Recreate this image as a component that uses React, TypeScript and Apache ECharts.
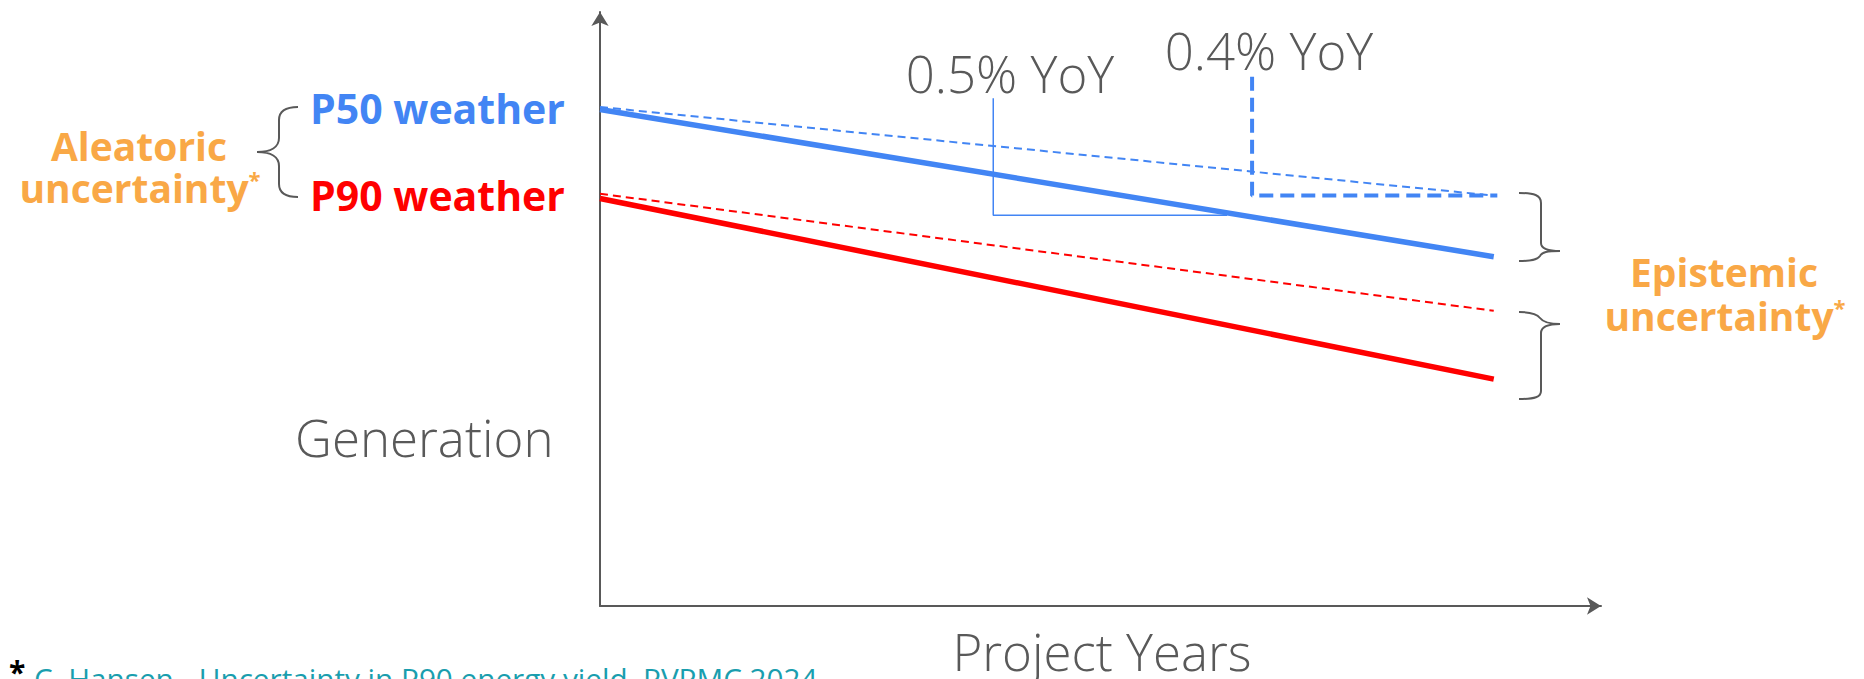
import React, { useEffect, useRef } from "react";
import * as echarts from "echarts";

// ---- data ----
const years = [0, 25];
const p50Degraded = [83.6, 58.8]; // P50 weather, 0.5% YoY (solid)
const p50Reference = [84.0, 69.1]; // P50 weather, 0.4% YoY (dashed)
const p90Degraded = [68.6, 38.2]; // P90 weather, 0.5% YoY (solid)
const p90Reference = [69.4, 49.7]; // P90 weather, 0.4% YoY (dashed)
const yoy05X = [11.0, 11.0, 17.54];
const yoy05Y = [85.5, 65.8, 65.8];
const yoy04X = [18.24, 18.24, 25.1];
const yoy04Y = [89.1, 69.1, 69.1];
const yoyLabels = ["0.5% YoY", "0.4% YoY"];
const axisNames = ["Project Years", "Generation"];
const weatherLabels = ["P50 weather", "P90 weather"];
const footnote = "C. Hansen - Uncertainty in P90 energy yield, PVPMC 2024";

const BLUE = "#4285F4";
const RED = "#FF0000";
const ORANGE = "#F9A846";
const GRAY = "#595959";
const TEAL = "#1A9EAE";
const FONT = '"Open Sans", "Noto Sans", sans-serif';

const BRACES: Record<string, string> = {
  braceLeft:
    "M298,107 C286,107 279,111 279,120 L279,138 C279,147 271,152 257,152 C271,152 279,157 279,166 L279,184 C279,193 286,197 298,197",
  braceRight1:
    "M1519,193 C1534,193 1541,195 1541,203 L1541,243 C1541,248 1547,251 1560,251 C1547,251 1542,252 1540,256 C1537,260 1531,261 1519,261",
  braceRight2:
    "M1519,312 C1531,312 1537,314 1540,318 C1543,322 1548,324 1560,324 C1548,324 1541,327 1541,333 L1541,391 C1541,397 1535,399 1519,399",
};
Object.keys(BRACES).forEach((name) => {
  echarts.graphic.registerShape(name, echarts.graphic.extendPath(BRACES[name], {}));
});

const pairs = (xs: number[], ys: number[]) => xs.map((x, i) => [x, ys[i]]);

function line(name: string, data: number[][], color: string, width: number, type: any, z = 2) {
  return {
    name,
    type: "line",
    data,
    symbol: "none",
    z,
    lineStyle: { color, width, type, cap: "butt" },
    silent: true,
  };
}

export default function App() {
  const ref = useRef<HTMLDivElement>(null);
  useEffect(() => {
    if (!ref.current) return;
    const chart = echarts.init(ref.current, null, { renderer: "svg" });
    const boldText = (text: string, x: number, y: number, fill: string, size: number, align = "left") => ({
      type: "text",
      x,
      y,
      silent: true,
      style: { text, fill, fontSize: size, fontWeight: "bold", fontFamily: FONT, align, verticalAlign: "middle" },
    });
    const lightText = (text: string, x: number, y: number, size: number, align = "center") => ({
      type: "text",
      x,
      y,
      silent: true,
      style: { text, fill: GRAY, fontSize: size, fontWeight: 300, fontFamily: FONT, align, verticalAlign: "middle" },
    });
    const supText = (word: string, x: number, y: number) => ({
      type: "text",
      x,
      y,
      silent: true,
      style: {
        text: `{u|${word}}{s|*}`,
        align: "center",
        verticalAlign: "middle",
        rich: {
          u: { fontSize: 39, fontWeight: "bold", fontFamily: FONT, fill: ORANGE },
          s: { fontSize: 22, fontWeight: "bold", fontFamily: FONT, fill: ORANGE, verticalAlign: "top" },
        },
      },
    });
    const braceStyle = { stroke: GRAY, lineWidth: 2, fill: "none" };
    const axisCommon = {
      type: "value",
      min: 0,
      axisLine: {
        show: true,
        symbol: ["none", "arrow"],
        symbolSize: [13, 14],
        lineStyle: { color: GRAY, width: 2 },
      },
      axisTick: { show: false },
      axisLabel: { show: false },
      splitLine: { show: false },
    };
    chart.setOption({
      animation: false,
      grid: { left: 600, top: 12, width: 1001, height: 594 },
      xAxis: { ...axisCommon, max: 28 },
      yAxis: { ...axisCommon, max: 100 },
      series: [
        line("0.5% YoY", pairs(yoy05X, yoy05Y), BLUE, 1.5, "solid", 1),
        line("0.4% YoY", pairs(yoy04X, yoy04Y), BLUE, 4, [14, 7], 1),
        line("P50 reference", pairs(years, p50Reference), BLUE, 2, [8, 5]),
        line("P90 reference", pairs(years, p90Reference), RED, 2, [8, 5]),
        line("P50 weather", pairs(years, p50Degraded), BLUE, 5.5, "solid", 3),
        line("P90 weather", pairs(years, p90Degraded), RED, 5.5, "solid", 3),
      ],
      graphic: [
        { type: "braceLeft", x: 0, y: 0, silent: true, style: braceStyle },
        { type: "braceRight1", x: 0, y: 0, silent: true, style: braceStyle },
        { type: "braceRight2", x: 0, y: 0, silent: true, style: braceStyle },
        boldText(weatherLabels[0], 310, 108, BLUE, 41),
        boldText(weatherLabels[1], 310, 195, RED, 41),
        boldText("Aleatoric", 139, 145, ORANGE, 39, "center"),
        supText("uncertainty", 140, 187),
        boldText("Epistemic", 1724, 271, ORANGE, 39, "center"),
        supText("uncertainty", 1725, 315),
        lightText(yoyLabels[0], 1010, 73, 51),
        lightText(yoyLabels[1], 1269, 50, 51),
        lightText(axisNames[1], 295, 437, 51, "left"),
        lightText(axisNames[0], 1102, 651, 51),
        {
          type: "text",
          x: 9,
          y: 671,
          silent: true,
          style: { text: "*", fill: "#000000", fontSize: 30, fontWeight: "bold", fontFamily: FONT, verticalAlign: "middle" },
        },
        {
          type: "text",
          x: 34,
          y: 678,
          silent: true,
          style: { text: footnote, fill: TEAL, fontSize: 29.7, fontFamily: FONT, verticalAlign: "middle" },
        },
      ],
    });
    return () => chart.dispose();
  }, []);
  return (
    <div
      ref={ref}
      style={{ position: "fixed", left: 0, top: 0, width: "1864px", height: "679px", background: "#ffffff" }}
    />
  );
}
